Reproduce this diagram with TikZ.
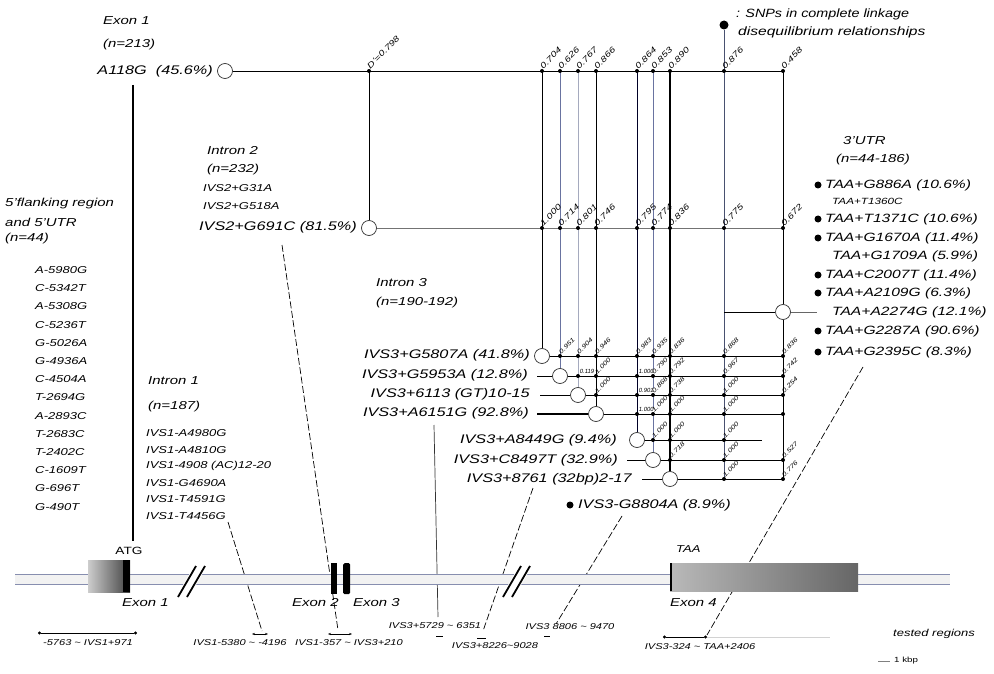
\documentclass[tikz,border=0pt]{standalone}
\usepackage{fontspec}
\setmainfont{Liberation Sans}[FakeStretch=1.3]
\usetikzlibrary{arrows.meta}
\definecolor{tube}{RGB}{135,142,175}
\definecolor{vblue}{RGB}{105,115,160}
\definecolor{vlight}{RGB}{165,170,190}
\begin{document}
\begin{tikzpicture}[x=1pt,y=-1pt,
  every node/.style={inner sep=0pt},
  fA/.style={font=\fontsize{12.5}{14}\selectfont\itshape},
  fT/.style={font=\fontsize{11.5}{13}\selectfont\itshape},
  fS/.style={font=\fontsize{10}{11}\selectfont\itshape},
  fU/.style={font=\fontsize{12}{14}\selectfont\itshape},
  fR/.style={font=\fontsize{8.5}{9}\selectfont\itshape},
  ldrot/.style={font=\fontsize{8}{9}\selectfont\itshape, rotate=45, anchor=south west},
  ldlow/.style={font=\fontsize{6}{6}\selectfont\itshape, rotate=45, anchor=south west},
  ldhor/.style={font=\fontsize{6}{6}\selectfont\itshape, anchor=south west, fill=white, inner sep=0.3pt, xscale=0.75},
  snp/.style={circle, draw=black!80, fill=white, line width=0.7pt, minimum size=15pt},
  jd/.style={circle, fill=black, minimum size=4pt},
  bul/.style={circle, fill=black, minimum size=7pt},
  ln/.style={line width=0.9pt},
  rowln/.style={line width=0.7pt},
  conn/.style={line width=0.7pt, dash pattern=on 7pt off 2.5pt},
  bar/.style={line width=0.8pt},
]
\useasboundingbox (0,0) rectangle (994,674);
\fill[white] (0,0) rectangle (994,674);

% ---------------- texts, top left
\node[fT, anchor=west] (e1t) at (103,21) {Exon 1};
\node[fT, anchor=west] (e1n) at (103,45) {(n=213)};
\node[fA, anchor=east] (a118) at (213,71) {A118G\ \ (45.6\%)};
\node[snp] (cA) at (225,71) {};

\node[fT, anchor=west] (i2t) at (207,151) {Intron 2};
\node[fT, anchor=west] (i2n) at (207,170) {(n=232)};
\node[fS, anchor=west] (i2a) at (203,188) {IVS2+G31A};
\node[fS, anchor=west] (i2b) at (203,206) {IVS2+G518A};
\node[fA, anchor=east] (i2c) at (357,227) {IVS2+G691C (81.5\%)};
\node[snp] (cB) at (369,228) {};

\node[fT, anchor=west] (flt1) at (5,204) {5'flanking region};
\node[fT, anchor=west] (flt2) at (5,222) {and 5'UTR};
\node[fT, anchor=west] (flt3) at (5,239) {(n=44)};
\foreach \lv [count=\i] in {A-5980G,C-5342T,A-5308G,C-5236T,G-5026A,G-4936A,C-4504A,T-2694G,A-2893C,T-2683C,T-2402C,C-1609T,G-696T,G-490T}
  \node[fS, anchor=west] (fl\i) at (35,{270+(\i-1)*18.2}) {\lv};

\node[fT, anchor=west] (i1t) at (148,381) {Intron 1};
\node[fT, anchor=west] (i1n) at (148,407) {(n=187)};
\foreach \lv [count=\i] in {IVS1-A4980G,IVS1-A4810G,IVS1-4908 (AC)12-20,IVS1-G4690A,IVS1-T4591G,IVS1-T4456G}
  \node[fS, anchor=west] (iv1\i) at (146,{433+(\i-1)*16.6}) {\lv};

% ---------------- intron 3
\node[fT, anchor=west] (i3t) at (376,283) {Intron 3};
\node[fT, anchor=west] (i3n) at (376,303) {(n=190-192)};
\node[fA, anchor=east] (r1t) at (530,355) {IVS3+G5807A (41.8\%)};
\node[fA, anchor=east] (r2t) at (528,375) {IVS3+G5953A (12.8\%)};
\node[fA, anchor=east] (r3t) at (530,394) {IVS3+6113 (GT)10-15};
\node[fA, anchor=east] (r4t) at (529,413) {IVS3+A6151G (92.8\%)};
\node[fA, anchor=east] (r5t) at (617,440) {IVS3+A8449G (9.4\%)};
\node[fA, anchor=east] (r6t) at (618,460) {IVS3+C8497T (32.9\%)};
\node[fA, anchor=east] (r7t) at (632,479) {IVS3+8761 (32bp)2-17};
\node[bul] (b88) at (570,505) {};
\node[fA, anchor=west] (g88) at (578,505) {IVS3-G8804A (8.9\%)};

% ---------------- 3'UTR
\node[fT, anchor=west] (u3t) at (843,141) {3'UTR};
\node[fT, anchor=west] (u3n) at (836,160) {(n=44-186)};
\node[bul] (bu1) at (818,185) {};
\node[fU, anchor=west] (u1) at (825,185) {TAA+G886A (10.6\%)};
\node[font=\fontsize{9}{10}\selectfont\itshape, anchor=west] (u2) at (832,201) {TAA+T1360C};
\node[bul] (bu3) at (818,219) {};
\node[fU, anchor=west] (u3) at (825,219) {TAA+T1371C (10.6\%)};
\node[bul] (bu4) at (818,238) {};
\node[fU, anchor=west] (u4) at (825,238) {TAA+G1670A (11.4\%)};
\node[fU, anchor=west] (u5) at (832,256) {TAA+G1709A (5.9\%)};
\node[bul] (bu6) at (818,275) {};
\node[fU, anchor=west] (u6) at (825,275) {TAA+C2007T (11.4\%)};
\node[bul] (bu7) at (818,293) {};
\node[fU, anchor=west] (u7) at (825,293) {TAA+A2109G (6.3\%)};
\node[fU, anchor=west] (u8) at (832,312) {TAA+A2274G (12.1\%)};
\node[bul] (bu9) at (818,331) {};
\node[fU, anchor=west] (u9) at (825,331) {TAA+G2287A (90.6\%)};
\node[bul] (bu10) at (818,352) {};
\node[fU, anchor=west] (u10) at (825,352) {TAA+G2395C (8.3\%)};

% legend
\node[circle, fill=black, minimum size=9pt] (legdot) at (724,25) {};
\node[fU, anchor=west, xscale=0.92] (leg1) at (736,14) {: SNPs in complete linkage};
\node[fU, anchor=west] (leg2) at (738,32) {disequilibrium relationships};

% ---------------- matrix
\foreach \k/\xx in {0/369,1/542,2/560,3/578,4/596,5/637,6/653,7/670,8/724,9/783} {
  \coordinate (T\k) at (\xx,71);
  \coordinate (M\k) at (\xx,228);
  \coordinate (B\k) at (\xx,480);
}
\node[snp] (c1) at (542,356) {};
\node[snp] (c2) at (560,376) {};
\node[snp] (c3) at (578,395) {};
\node[snp] (c4) at (596,414) {};
\node[snp] (c5) at (637,440) {};
\node[snp] (c6) at (653,460) {};
\node[snp] (c7) at (670,479) {};
\node[snp] (cU) at (783,312) {};

\draw[ln] (cA) -- (T9);
\draw[ln] (T0) -- (cB);
\draw[line width=0.5pt, black!55] (cB) -- (M9);
\draw[ln] (T1) -- (c1);
\draw[line width=1pt, vblue] (T2) -- (c2);
\draw[line width=0.8pt, vlight] (T3) -- (c3);
\draw[ln] (T4) -- (c4);
\draw[ln, black!85!blue] (T5) -- (c5);
\draw[line width=1pt, vblue] (T6) -- (c6);
\draw[line width=1.3pt] (T7) -- (c7);
\draw[line width=0.9pt, vblue!70!black] (legdot) -- (B8);
\draw[ln] (T9) -- (cU);
\draw[ln] (cU) -- (B9);

\coordinate (U0) at (724,312);
\coordinate (U1) at (817,312);
\draw[rowln] (U0) -- (cU);
\draw[line width=0.5pt, black!60] (cU) -- (U1);

\foreach \r/\yy/\xs/\xe in {1/356/542/783, 2/376/537/783, 3/395/540/783, 4/414/537/783, 5/440/637/762, 6/460/627/783, 7/479/642/783} {
  \coordinate (RS\r) at (\xs,\yy);
  \coordinate (RE\r) at (\xe,\yy);
}
\draw[rowln] (c1) -- (RE1);
\draw[rowln] (RS2) -- (c2); \draw[rowln] (c2) -- (RE2);
\draw[rowln] (RS3) -- (c3); \draw[rowln] (c3) -- (RE3);
\draw[line width=1.3pt] (RS4) -- (c4); \draw[line width=1pt] (c4) -- (RE4);
\draw[rowln] (c5) -- (RE5);
\draw[rowln] (RS6) -- (c6); \draw[rowln] (c6) -- (RE6);
\draw[rowln] (RS7) -- (c7); \draw[rowln] (c7) -- (RE7);

% junction dots and LD values
\foreach \xx/\yy/\lv/\ty [count=\i] in {
  369/71/D'=0.798/ldrot, 542/71/0.704/ldrot, 560/71/0.626/ldrot, 578/71/0.767/ldrot, 596/71/0.866/ldrot,
  637/71/0.864/ldrot, 653/71/0.853/ldrot, 670/71/0.890/ldrot, 724/71/0.876/ldrot, 783/71/0.458/ldrot,
  542/228/1.000/ldrot, 560/228/0.714/ldrot, 578/228/0.801/ldrot, 596/228/0.746/ldrot, 637/228/0.795/ldrot,
  653/228/0.774/ldrot, 670/228/0.836/ldrot, 724/228/0.775/ldrot, 783/228/0.672/ldrot,
  560/356/0.951/ldlow, 578/356/0.904/ldlow, 596/356/0.946/ldlow, 637/356/0.983/ldlow, 653/356/0.935/ldlow,
  670/356/0.836/ldlow, 724/356/0.868/ldlow, 783/356/0.836/ldlow,
  578/376/0.119/ldhor, 596/376/1.000/ldlow, 637/376/1.000/ldhor, 653/376/0.790/ldlow, 670/376/0.792/ldlow,
  724/376/0.967/ldlow, 783/376/0.742/ldlow,
  596/395/1.000/ldlow, 637/395/0.901/ldhor, 653/395/0.868/ldlow, 670/395/0.738/ldlow, 724/395/1.000/ldlow, 783/395/0.254/ldlow,
  637/414/1.000/ldhor, 653/414/1.000/ldlow, 670/414/1.000/ldlow, 724/414/1.000/ldlow, 783/414//ldlow,
  653/440/1.000/ldlow, 670/440/1.000/ldlow, 724/440/1.000/ldlow,
  670/460/0.718/ldlow, 724/460/1.000/ldlow, 783/460/0.527/ldlow,
  724/479/1.000/ldlow, 783/479/0.776/ldlow} {
  \node[jd] (jd\i) at (\xx,\yy) {};
  \node[\ty] (lb\i) at (\xx+1.5,\yy-1.5) {\lv};
}

% ---------------- connectors to gene
\coordinate (k1s) at (133,85);  \coordinate (k1e) at (133,541);
\coordinate (k2s) at (228,522); \coordinate (k2e) at (262,631);
\coordinate (k3s) at (282,245); \coordinate (k3e) at (338,630);
\coordinate (k4s) at (434,425); \coordinate (k4e) at (438,617);
\coordinate (k5s) at (533,488); \coordinate (k5e) at (483,631);
\coordinate (k6s) at (622,516); \coordinate (k6e) at (556,624);
\coordinate (k7s) at (863,367); \coordinate (k7e) at (707,635);
\draw[line width=1.1pt] (k1s) -- (k1e);
\draw[conn] (k2s) -- (k2e);
\draw[conn] (k3s) -- (k3e);
\draw[line width=0.7pt, black!80] (k4s) -- (k4e);
\draw[conn] (k5s) -- (k5e);
\draw[conn] (k6s) -- (k6e);
\draw[conn] (k7s) -- (k7e);

% ---------------- gene
\coordinate (gA) at (15,574); \coordinate (gB) at (950,574);
\coordinate (gC) at (15,584); \coordinate (gD) at (950,584);
\fill[gray!10] (gA) rectangle (gD);
\draw[tube, line width=0.9pt] (gA) -- (gB);
\draw[tube, line width=0.9pt] (gC) -- (gD);

\node[anchor=north west, minimum width=42pt, minimum height=32pt, left color=gray!40, right color=black!75] (ex1) at (88,560) {};
\fill[black] (123,560) rectangle (130,592);
\node[anchor=north west, fill=black, minimum width=6pt, minimum height=31pt] (ex2) at (331,563) {};
\node[anchor=north west, fill=black, minimum width=7pt, minimum height=31pt, rounded corners=1.5pt] (ex3) at (343,563) {};
\node[anchor=north west, minimum width=188pt, minimum height=28pt, left color=gray!55, middle color=gray!25, right color=gray!80!black] (ex4) at (670,563) {};
\draw[line width=2.5pt] (671.2,563) -- (671.2,591);

% breaks
\foreach \bx [count=\i] in {178,503} {
  \fill[white] (\bx-2,597) -- (\bx+16,566) -- (\bx+29,566) -- (\bx+11,597) -- cycle;
  \draw[line width=1.8pt] (\bx,597) -- (\bx+18,566);
  \draw[line width=1.8pt] (\bx+9,597) -- (\bx+27,566);
}

\node[font=\fontsize{10.5}{12}\selectfont, anchor=south] (atg) at (129,555) {ATG};
\node[fS, anchor=south west] (taa) at (676,553) {TAA};
\node[fT, anchor=west] (x1l) at (122,603) {Exon 1};
\node[fT, anchor=west] (x2l) at (292,603) {Exon 2};
\node[fT, anchor=west] (x3l) at (353,603) {Exon 3};
\node[fT, anchor=west] (x4l) at (670,603) {Exon 4};

% ---------------- tested regions
\coordinate (t1a) at (38,633); \coordinate (t1b) at (137,633);
\draw[bar, {Circle[length=3pt]}-{Circle[length=3pt]}] (t1a) -- (t1b);
\node[fR] (t1t) at (88,643) {-5763 \textasciitilde\ IVS1+971};
\coordinate (t2a) at (252,634); \coordinate (t2b) at (268,634);
\draw[bar, {Stealth[length=3pt]}-{Stealth[length=3pt]}] (t2a) -- (t2b);
\node[fR] (t2t) at (240,643) {IVS1-5380 \textasciitilde\ -4196};
\coordinate (t3a) at (328,634); \coordinate (t3b) at (352,634);
\draw[bar, {Stealth[length=3pt]}-{Stealth[length=3pt]}] (t3a) -- (t3b);
\node[fR] (t3t) at (349,643) {IVS1-357 \textasciitilde\ IVS3+210};
\coordinate (t4a) at (436,636); \coordinate (t4b) at (443,636);
\draw[bar] (t4a) -- (t4b);
\node[fR] (t4t) at (435,626) {IVS3+5729 \textasciitilde\ 6351};
\coordinate (t5a) at (477,638); \coordinate (t5b) at (486,638);
\draw[bar] (t5a) -- (t5b);
\node[fR] (t5t) at (495,646) {IVS3+8226\textasciitilde 9028};
\coordinate (t6a) at (544,636); \coordinate (t6b) at (550,636);
\draw[bar] (t6a) -- (t6b);
\node[fR] (t6t) at (570,627) {IVS3 8806 \textasciitilde\ 9470};
\coordinate (t7a) at (663,637); \coordinate (t7b) at (707,637); \coordinate (t7c) at (830,637);
\draw[line width=0.6pt, gray!35] (t7b) -- (t7c);
\draw[bar, {Circle[length=3pt]}-{Circle[length=3pt]}] (t7a) -- (t7b);
\node[fR] (t7t) at (700,647) {IVS3-324 \textasciitilde\ TAA+2406};
\node[font=\fontsize{10}{11}\selectfont\itshape, anchor=west] (trl) at (893,634) {tested regions};
\coordinate (kb1) at (878,661); \coordinate (kb2) at (890,661);
\draw[line width=0.8pt, gray] (kb1) -- (kb2);
\node[font=\fontsize{7.5}{8}\selectfont, anchor=west] (kbp) at (894,661) {1 kbp};
\end{tikzpicture}
\end{document}
